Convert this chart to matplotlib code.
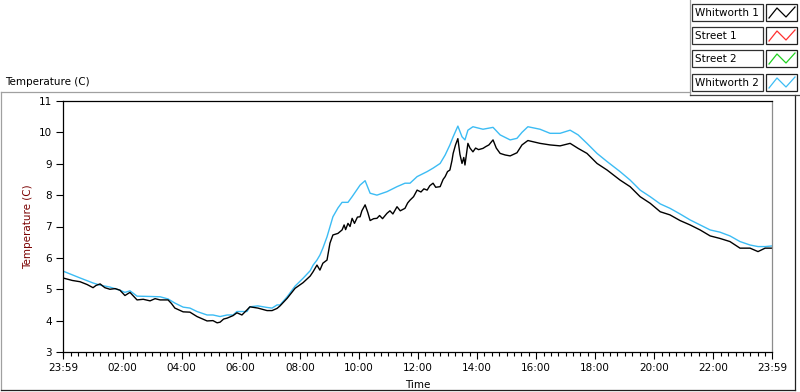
import matplotlib
matplotlib.use("Agg")
import matplotlib.pyplot as plt
from matplotlib.patches import Rectangle
from matplotlib.lines import Line2D

# ---------------- data ----------------
series_names = ["Whitworth 1", "Street 1", "Street 2", "Whitworth 2"]
series_colors = ["#000000", "#ff3030", "#20d020", "#3cbcf4"]

# Whitworth 1 (hours since midnight, deg C)
t_w1 = [-0.02, 0.3, 0.56, 0.8, 1.0, 1.1, 1.24, 1.4, 1.57, 1.75, 1.91, 2.08, 2.25, 2.49,
        2.7, 2.93, 3.1, 3.27, 3.54, 3.65, 3.77, 4.05, 4.28, 4.52, 4.86, 5.06, 5.2, 5.3,
        5.42, 5.54, 5.74, 5.87, 6.04, 6.21, 6.31, 6.58, 6.89, 7.06, 7.23, 7.33, 7.57,
        7.84, 8.11, 8.35, 8.45, 8.58, 8.68, 8.78, 8.92, 9.02, 9.12, 9.29, 9.43, 9.5,
        9.55, 9.63, 9.7, 9.77, 9.85, 9.95, 10.04, 10.1, 10.21, 10.3, 10.38, 10.5, 10.61,
        10.7, 10.8, 10.95, 11.05, 11.15, 11.29, 11.4, 11.56, 11.65, 11.73, 11.85, 11.97,
        12.1, 12.2, 12.31, 12.4, 12.51, 12.6, 12.75, 12.85, 12.92, 13.0, 13.08, 13.15,
        13.19, 13.27, 13.35, 13.42, 13.49, 13.55, 13.59, 13.64, 13.69, 13.76, 13.86,
        13.95, 14.05, 14.2, 14.3, 14.4, 14.54, 14.65, 14.78, 14.95, 15.12, 15.35, 15.52,
        15.72, 15.9, 16.13, 16.47, 16.81, 17.15, 17.42, 17.72, 18.06, 18.4, 18.84, 19.18,
        19.52, 19.86, 20.2, 20.53, 20.87, 21.21, 21.55, 21.89, 22.22, 22.56, 22.9, 23.24,
        23.51, 23.75, 23.98]
v_w1 = [5.36, 5.28, 5.24, 5.15, 5.05, 5.12, 5.17, 5.05, 5.0, 5.02, 4.97, 4.8, 4.9, 4.66,
        4.68, 4.63, 4.7, 4.66, 4.66, 4.55, 4.4, 4.28, 4.27, 4.13, 3.99, 4.0, 3.93, 3.95,
        4.05, 4.08, 4.16, 4.25, 4.18, 4.34, 4.44, 4.4, 4.32, 4.32, 4.39, 4.47, 4.71,
        5.03, 5.21, 5.42, 5.56, 5.77, 5.61, 5.83, 5.93, 6.47, 6.73, 6.78, 6.89, 7.05,
        6.9, 7.1, 7.0, 7.26, 7.1, 7.3, 7.31, 7.5, 7.69, 7.45, 7.19, 7.25, 7.26,
        7.35, 7.25, 7.42, 7.5, 7.4, 7.63, 7.5, 7.58, 7.75, 7.84, 7.95, 8.16,
        8.1, 8.2, 8.16, 8.3, 8.38, 8.25, 8.27, 8.5, 8.59, 8.75, 8.8, 9.1,
        9.33, 9.6, 9.8, 9.3, 9.01, 9.2, 8.96, 9.3, 9.65, 9.5, 9.38,
        9.5, 9.45, 9.49, 9.55, 9.6, 9.76, 9.5, 9.33, 9.28, 9.25, 9.35, 9.6,
        9.74, 9.7, 9.65, 9.6, 9.57, 9.65, 9.49, 9.33, 9.01, 8.8, 8.48, 8.27,
        7.95, 7.74, 7.47, 7.37, 7.19, 7.05, 6.89, 6.7, 6.62, 6.52, 6.31, 6.31,
        6.2, 6.31, 6.31]

# Whitworth 2
t_w2 = [-0.02, 0.56, 1.0, 1.24, 1.57, 1.91, 2.08, 2.25, 2.49, 2.93, 3.27, 3.54, 3.77,
        4.05, 4.28, 4.52, 4.86, 5.06, 5.3, 5.54, 5.74, 5.87, 6.21, 6.31, 6.58, 6.89,
        7.06, 7.23, 7.33, 7.57, 7.84, 8.11, 8.35, 8.45, 8.58, 8.68, 8.78, 8.92, 9.02,
        9.12, 9.29, 9.43, 9.63, 9.77, 10.04, 10.21, 10.38, 10.61, 10.95, 11.29, 11.56,
        11.73, 11.97, 12.31, 12.51, 12.75, 12.92, 13.08, 13.19, 13.35, 13.49, 13.59,
        13.69, 13.86, 14.2, 14.54, 14.78, 15.12, 15.35, 15.52, 15.72, 16.13, 16.47,
        16.81, 17.15, 17.42, 17.72, 18.06, 18.4, 18.84, 19.18, 19.52, 19.86, 20.2,
        20.53, 20.87, 21.21, 21.55, 21.89, 22.22, 22.56, 22.9, 23.24, 23.51, 23.75,
        23.98]
v_w2 = [5.58, 5.36, 5.2, 5.13, 5.07, 4.97, 4.9, 4.95, 4.78, 4.77, 4.76, 4.69, 4.56,
        4.43, 4.4, 4.29, 4.18, 4.18, 4.13, 4.18, 4.18, 4.29, 4.29, 4.44, 4.47, 4.42,
        4.4, 4.5, 4.5, 4.76, 5.1, 5.35, 5.59, 5.77, 5.93, 6.09, 6.31, 6.67, 6.99,
        7.31, 7.59, 7.77, 7.77, 7.95, 8.32, 8.46, 8.06, 8.0, 8.11, 8.27, 8.38,
        8.38, 8.59, 8.75, 8.86, 9.01, 9.28, 9.6, 9.86, 10.2, 9.86, 9.76,
        10.07, 10.18, 10.1, 10.16, 9.92, 9.76, 9.81, 10.0, 10.18, 10.1, 9.97,
        9.97, 10.07, 9.92, 9.65, 9.33, 9.07, 8.75, 8.48, 8.16, 7.95, 7.72,
        7.58, 7.4, 7.21, 7.05, 6.89, 6.82, 6.7, 6.52, 6.41, 6.36, 6.36,
        6.38]

x_major = [-1 / 60, 2, 4, 6, 8, 10, 12, 14, 16, 18, 20, 22, 23 + 59 / 60]
x_labels = ["23:59", "02:00", "04:00", "06:00", "08:00", "10:00", "12:00",
            "14:00", "16:00", "18:00", "20:00", "22:00", "23:59"]
y_ticks = [3, 4, 5, 6, 7, 8, 9, 10, 11]

# ---------------- figure ----------------
plt.rcParams["font.family"] = ["DejaVu Sans"]
W, H = 800, 392
fig = plt.figure(figsize=(W / 100, H / 100), dpi=100)
fig.patch.set_facecolor("white")

def fx(px):
    return px / W

def fy(py):
    return 1 - py / H

ax = fig.add_axes([fx(63), fy(352), fx(772) - fx(63), fy(101) - fy(352)])
ax.plot(t_w2, v_w2, color=series_colors[3], lw=1.0)
ax.plot(t_w1, v_w1, color=series_colors[0], lw=1.0)

ax.set_xlim(-1 / 60, 23 + 59 / 60)
ax.set_ylim(3, 11)
ax.set_xticks(x_major)
ax.set_xticklabels(x_labels)
ax.set_xticks([i * 0.25 for i in range(0, 96)], minor=True)
ax.set_yticks(y_ticks)
ax.tick_params(axis="both", which="major", direction="out", length=5, width=0.8,
               labelsize=7.5, colors="black", pad=3)
ax.tick_params(axis="x", which="minor", direction="out", length=3, width=0.8)
for s in ["left", "bottom", "top"]:
    ax.spines[s].set_color("black")
    ax.spines[s].set_linewidth(0.9)
ax.spines["right"].set_color("#8c8c8c")
ax.spines["right"].set_linewidth(0.9)

ax.set_xlabel("Time", fontsize=7.5, labelpad=5)
ax.set_ylabel("Temperature (C)", fontsize=7.5, color="#7a0000", labelpad=4)

# overlay for frame / legend in pixel coordinates
ov = fig.add_axes([0, 0, 1, 1], zorder=5)
ov.set_xlim(0, W)
ov.set_ylim(H, 0)
ov.axis("off")

# outer panel frame
ov.plot([1, 690], [92, 92], color="#a0a0a0", lw=0.9)
ov.plot([1, 1], [92, 390], color="#a0a0a0", lw=0.9)
ov.plot([1, 795], [390, 390], color="#202020", lw=0.9)
ov.plot([795, 795], [95, 390], color="#202020", lw=0.9)
ov.plot([690, 690], [0, 95], color="#a0a0a0", lw=0.9)
ov.plot([690, 800], [95, 95], color="#404040", lw=0.9)

fig.text(fx(5), fy(82), "Temperature (C)", fontsize=7.5, ha="left", va="center")

# legend
rows_top = [4, 27, 50, 74]
for name, col, top in zip(series_names, series_colors, rows_top):
    ov.add_patch(Rectangle((692, top), 71, 17, facecolor="white",
                           edgecolor="#303030", lw=0.9))
    ov.text(695, top + 8.8, name, fontsize=7.5, ha="left", va="center")
    ov.add_patch(Rectangle((766, top), 31, 17, facecolor="white",
                           edgecolor="#202020", lw=0.9))
    ov.add_line(Line2D([769, 777, 786, 795],
                       [top + 14, top + 4, top + 13, top + 3], color=col, lw=0.9))

fig.savefig("out.png", dpi=100, facecolor="white")
